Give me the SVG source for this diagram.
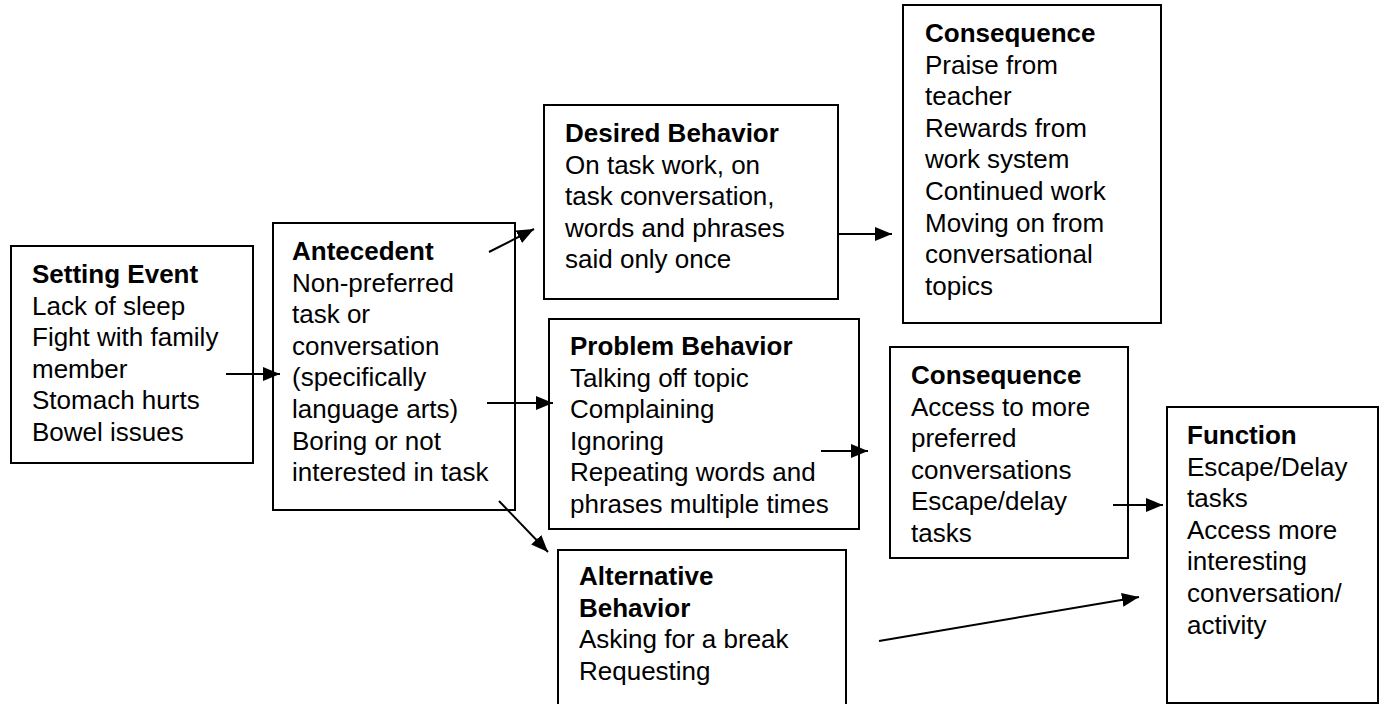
<svg xmlns="http://www.w3.org/2000/svg" width="1385" height="704" viewBox="0 0 1385 704">
<style>
.box{fill:#fff;stroke:#000;stroke-width:2}
text{font-family:"Liberation Sans",Arial,sans-serif;font-size:26px;fill:#000}
.t{font-weight:bold}
.c{stroke:#000;stroke-width:2;fill:none;marker-end:url(#ah)}
</style>
<defs>
<marker id="ah" markerUnits="userSpaceOnUse" markerWidth="18" markerHeight="14" refX="17" refY="7" orient="auto">
<path d="M0,0 L17,7 L0,14 z" fill="#000"/>
</marker>
</defs>
<rect width="1385" height="704" fill="#fff"/>
<g id="setting">
<rect class="box" x="11" y="246" width="242" height="217"/>
<text x="32" y="283"><tspan class="t">Setting Event</tspan><tspan x="32" dy="31.6">Lack of sleep</tspan><tspan x="32" dy="31.6">Fight with family</tspan><tspan x="32" dy="31.6">member</tspan><tspan x="32" dy="31.6">Stomach hurts</tspan><tspan x="32" dy="31.6">Bowel issues</tspan></text>
</g>
<g id="antecedent">
<rect class="box" x="273" y="223" width="242" height="287"/>
<text x="292" y="260"><tspan class="t">Antecedent</tspan><tspan x="292" dy="31.6">Non-preferred</tspan><tspan x="292" dy="31.6">task or</tspan><tspan x="292" dy="31.6">conversation</tspan><tspan x="292" dy="31.6">(specifically</tspan><tspan x="292" dy="31.6">language arts)</tspan><tspan x="292" dy="31.6">Boring or not</tspan><tspan x="292" dy="31.6">interested in task</tspan></text>
</g>
<g id="desired">
<rect class="box" x="544" y="105" width="294" height="194"/>
<text x="565" y="142"><tspan class="t">Desired Behavior</tspan><tspan x="565" dy="31.6">On task work, on</tspan><tspan x="565" dy="31.6">task conversation,</tspan><tspan x="565" dy="31.6">words and phrases</tspan><tspan x="565" dy="31.6">said only once</tspan></text>
</g>
<g id="consequence1">
<rect class="box" x="903" y="5" width="258" height="318"/>
<text x="925" y="42"><tspan class="t">Consequence</tspan><tspan x="925" dy="31.6">Praise from</tspan><tspan x="925" dy="31.6">teacher</tspan><tspan x="925" dy="31.6">Rewards from</tspan><tspan x="925" dy="31.6">work system</tspan><tspan x="925" dy="31.6">Continued work</tspan><tspan x="925" dy="31.6">Moving on from</tspan><tspan x="925" dy="31.6">conversational</tspan><tspan x="925" dy="31.6">topics</tspan></text>
</g>
<g id="problem">
<rect class="box" x="549" y="319" width="310" height="210"/>
<text x="570" y="355"><tspan class="t">Problem Behavior</tspan><tspan x="570" dy="31.6">Talking off topic</tspan><tspan x="570" dy="31.6">Complaining</tspan><tspan x="570" dy="31.6">Ignoring</tspan><tspan x="570" dy="31.6">Repeating words and</tspan><tspan x="570" dy="31.6">phrases multiple times</tspan></text>
</g>
<g id="consequence2">
<rect class="box" x="890" y="347" width="238" height="211"/>
<text x="911" y="384"><tspan class="t">Consequence</tspan><tspan x="911" dy="31.6">Access to more</tspan><tspan x="911" dy="31.6">preferred</tspan><tspan x="911" dy="31.6">conversations</tspan><tspan x="911" dy="31.6">Escape/delay</tspan><tspan x="911" dy="31.6">tasks</tspan></text>
</g>
<g id="function">
<rect class="box" x="1167" y="407" width="211" height="296"/>
<text x="1187" y="444"><tspan class="t">Function</tspan><tspan x="1187" dy="31.6">Escape/Delay</tspan><tspan x="1187" dy="31.6">tasks</tspan><tspan x="1187" dy="31.6">Access more</tspan><tspan x="1187" dy="31.6">interesting</tspan><tspan x="1187" dy="31.6">conversation/</tspan><tspan x="1187" dy="31.6">activity</tspan></text>
</g>
<g id="alternative">
<rect class="box" x="558" y="550" width="288" height="170"/>
<text x="579" y="585"><tspan class="t">Alternative</tspan><tspan x="579" dy="31.6" class="t">Behavior</tspan><tspan x="579" dy="31.6">Asking for a break</tspan><tspan x="579" dy="31.6">Requesting</tspan></text>
</g>
<g id="connectors">
<line class="c" x1="226" y1="374" x2="280" y2="374"/>
<line class="c" x1="489" y1="252" x2="534" y2="229"/>
<line class="c" x1="487" y1="403" x2="553" y2="403"/>
<line class="c" x1="499" y1="501" x2="548" y2="552"/>
<line class="c" x1="838" y1="234" x2="892" y2="234"/>
<line class="c" x1="821" y1="451" x2="868" y2="451"/>
<line class="c" x1="1113" y1="505" x2="1163" y2="505"/>
<line class="c" x1="879" y1="641" x2="1139" y2="597"/>
</g>
</svg>
